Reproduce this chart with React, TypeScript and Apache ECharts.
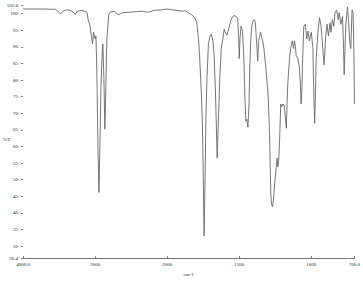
import React, { useEffect, useRef } from "react";
import * as echarts from "echarts";

// Wavenumbers (cm-1) and transmittance (%T)
const wavenumbers = [
  4000, 3767, 3548, 3507, 3480, 3452, 3411, 3357, 3302, 3274, 3247, 3192, 3138, 3110, 3096, 3069, 3055, 3035, 3021, 3001,
  2987, 2973, 2960, 2946, 2932, 2918, 2898, 2891, 2877, 2864, 2850, 2836, 2809, 2781, 2727, 2672, 2617, 2535, 2426, 2343,
  2262, 2179, 2083, 2015, 1953, 1912, 1871, 1843, 1830, 1809, 1795, 1782, 1775, 1761, 1754, 1747, 1743, 1737, 1730, 1723,
  1713, 1703, 1693, 1682, 1674, 1665, 1658, 1652, 1645, 1634, 1624, 1613, 1604, 1593, 1585, 1576, 1566, 1556, 1545, 1535,
  1521, 1510, 1504, 1499, 1494, 1487, 1476, 1467, 1460, 1453, 1446, 1439, 1432, 1426, 1419, 1412, 1403, 1396, 1389, 1385,
  1378, 1371, 1364, 1357, 1350, 1344, 1337, 1328, 1320, 1314, 1306, 1298, 1292, 1287, 1280, 1275, 1268, 1261, 1252, 1244,
  1236, 1231, 1225, 1218, 1211, 1205, 1196, 1188, 1179, 1172, 1166, 1161, 1150, 1143, 1136, 1131, 1122, 1116, 1109, 1104,
  1092, 1081, 1074, 1070, 1065, 1059, 1051, 1040, 1031, 1022, 1013, 999, 988, 981, 976, 970, 965, 953, 942, 931,
  919, 910, 899, 890, 880, 869, 862, 853, 842, 835, 823, 812, 805, 794, 782, 775, 771, 765, 760, 748,
  741, 732, 725, 716, 709, 705, 702, 700,
];
const transmittance = [
  101.4, 101.4, 101.3, 100.6, 99.9, 100.6, 101.1, 101.1, 100.4, 99.8, 100.7, 101.0, 100.7, 100.3, 98.2, 96.2, 93.8, 90.9, 94.4, 92.4,
  93.3, 80.7, 60.3, 46.2, 60.3, 77.8, 89.5, 90.9, 80.7, 65.2, 77.8, 92.4, 99.7, 100.6, 100.6, 99.7, 100.3, 100.4, 100.6, 100.7,
  100.4, 101.0, 101.1, 101.4, 101.1, 100.8, 100.8, 100.0, 99.7, 98.8, 97.6, 92.4, 88.0, 74.9, 65.2, 45.7, 33.1, 48.6, 69.0, 80.7,
  90.9, 93.0, 93.8, 91.8, 88.0, 77.8, 66.1, 56.5, 66.1, 80.7, 89.5, 92.4, 95.3, 94.1, 93.5, 94.7, 96.5, 98.2, 99.1, 99.4,
  99.2, 98.5, 93.8, 86.5, 92.4, 96.2, 94.7, 86.5, 74.9, 67.6, 68.2, 65.8, 71.9, 83.6, 92.4, 96.2, 97.9, 98.2, 97.6, 95.9,
  90.9, 85.7, 91.8, 93.5, 94.4, 92.9, 91.8, 89.5, 86.0, 83.6, 79.2, 74.9, 67.6, 60.3, 45.7, 42.7, 41.9, 44.2, 49.5, 53.0,
  56.5, 53.9, 55.9, 63.2, 72.8, 71.9, 72.8, 72.5, 69.0, 65.5, 74.9, 79.8, 86.5, 89.5, 90.9, 91.8, 89.5, 91.8, 90.0, 87.4,
  86.5, 83.6, 77.8, 72.8, 76.3, 86.5, 96.2, 96.8, 92.4, 94.7, 91.8, 94.4, 89.5, 74.9, 67.0, 76.3, 86.5, 94.4, 98.8, 96.2,
  89.5, 84.5, 93.3, 96.8, 93.3, 97.3, 94.4, 98.2, 96.2, 100.3, 101.1, 98.2, 100.3, 96.8, 99.1, 89.5, 81.6, 89.5, 96.2, 102.0,
  98.2, 91.5, 89.5, 101.1, 100.3, 92.4, 84.5, 72.8,
];

// Axis ticks (wavenumber) and their labels; scale doubles below 2000 cm-1
const xTickWavenumbers = [4000, 3000, 2000, 1500, 1000, 700];
const xTickLabels = ["4000.0", "3000", "2000", "1500", "1000", "700.0"];
const yTickValues = [26.4, 30, 35, 40, 45, 50, 55, 60, 65, 70, 75, 80, 85, 90, 95, 100, 102.6];

const toAxis = (w: number) => (w >= 2000 ? 4000 - w : 2000 + 2 * (2000 - w));

export default function App() {
  const ref = useRef<HTMLDivElement>(null);
  useEffect(() => {
    if (!ref.current) return;
    const chart = echarts.init(ref.current, undefined, { renderer: "svg" });
    const xTickPos = xTickWavenumbers.map(toAxis);
    const font = "'Liberation Serif', 'Times New Roman', serif";
    chart.setOption({
      animation: false,
      backgroundColor: "#ffffff",
      grid: { left: 23, right: 4, top: 5, bottom: 16, containLabel: false },
      xAxis: {
        type: "value",
        min: 0,
        max: toAxis(700),
        name: "cm-1",
        nameLocation: "middle",
        nameGap: 11,
        nameTextStyle: { fontFamily: font, fontSize: 5, color: "#222" },
        axisLine: { show: true, lineStyle: { color: "#777", width: 1 } },
        axisTick: { show: true, inside: true, length: 2, customValues: xTickPos, lineStyle: { color: "#777" } },
        axisLabel: {
          customValues: xTickPos,
          margin: 4,
          fontFamily: font,
          fontSize: 5,
          color: "#222",
          formatter: (v: number) => {
            const i = xTickPos.findIndex((p) => Math.abs(p - v) < 1e-6);
            return i >= 0 ? xTickLabels[i] : "";
          },
        },
        splitLine: { show: false },
      },
      yAxis: {
        type: "value",
        min: 26.4,
        max: 102.6,
        axisLine: { show: false },
        axisTick: { show: true, length: 2, customValues: yTickValues, lineStyle: { color: "#777" } },
        axisLabel: {
          customValues: yTickValues,
          margin: 5,
          fontFamily: font,
          fontSize: 5,
          color: "#222",
          formatter: (v: number) => (Number.isInteger(v) ? String(v) : v.toFixed(1)),
        },
        splitLine: { show: false },
      },
      graphic: [
        {
          type: "text",
          left: 3,
          top: 137,
          style: { text: "%T", fontFamily: font, fontSize: 5, fill: "#222" },
        },
      ],
      series: [
        {
          type: "line",
          data: wavenumbers.map((w, i) => [toAxis(w), transmittance[i]]),
          showSymbol: false,
          smooth: false,
          lineStyle: { color: "#666", width: 0.9 },
        },
      ],
    });
    return () => chart.dispose();
  }, []);
  return <div ref={ref} style={{ width: 363, height: 282, position: "absolute", left: 0, top: 0 }} />;
}
